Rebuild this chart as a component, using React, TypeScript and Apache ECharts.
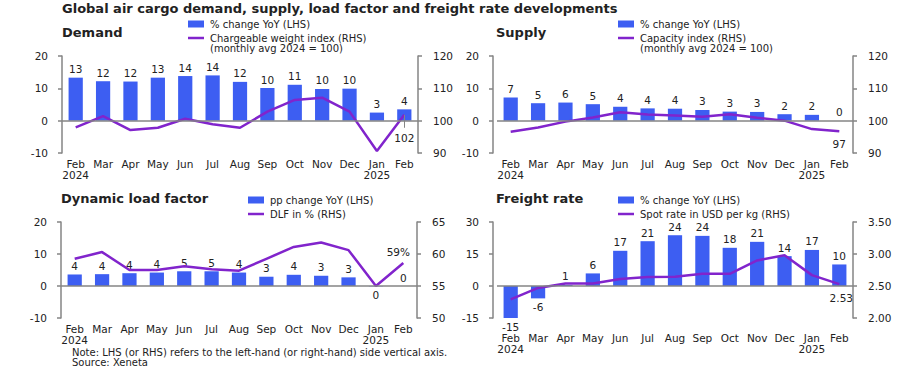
import React, { useEffect, useRef } from 'react';
import * as echarts from 'echarts';

const categories = ['Feb', 'Mar', 'Apr', 'May', 'Jun', 'Jul', 'Aug', 'Sep', 'Oct', 'Nov', 'Dec', 'Jan', 'Feb'];
const yearLabels: Record<number, string> = { 0: '2024', 11: '2025' };

const demandYoY = [13.3, 12.2, 12.1, 13.3, 13.8, 14.0, 12.0, 10.1, 11.1, 9.8, 9.9, 2.5, 3.5];
const demandIndex = [97.9, 101.4, 97.1, 97.8, 100.6, 98.9, 97.8, 102.8, 106.4, 107.1, 102.8, 90.6, 101.8];
const supplyYoY = [7.2, 5.4, 5.6, 5.1, 4.3, 3.8, 3.7, 3.3, 2.8, 2.7, 2.0, 1.8, 0];
const supplyIndex = [96.6, 97.9, 99.7, 101.0, 102.6, 101.9, 101.6, 101.2, 102.0, 100.9, 100.0, 97.4, 96.7];
const dlfChange = [3.6, 3.7, 4.0, 4.2, 4.6, 4.6, 4.2, 2.9, 3.5, 3.2, 2.7, -0.1, 0];
const dlfPct = [59.25, 60.3, 57.5, 57.5, 58.1, 57.6, 57.4, 59.25, 61.1, 61.8, 60.6, 55.0, 58.6];
const freightYoY = [-15, -5.8, 0.5, 5.9, 16.5, 21, 23.8, 23.5, 17.9, 20.7, 14, 16.9, 10.1];
const freightSpot = [2.29, 2.47, 2.54, 2.54, 2.61, 2.64, 2.645, 2.69, 2.69, 2.9, 2.98, 2.67, 2.53];

const BLUE = '#3d5ef2';
const PURPLE = '#8124cc';
const GREY = '#858585';
const TEXT = '#222';
const FONT = 'DejaVu Sans';

type Panel = {
  title: string;
  grid: { left: number; top: number; width: number; height: number };
  leftAxis: { min: number; max: number; interval: number; offset?: number };
  rightAxis: { min: number; max: number; interval: number; decimals?: number };
  bars: number[];
  line: number[];
  barName: string;
  lineName: string[];
  lastLabel: { text: string; position: string; offset: number[]; guide?: boolean };
  xLabelMargin: number;
};

const panels: Panel[] = [
  {
    title: 'Demand',
    grid: { left: 62, top: 56, width: 356, height: 97 },
    leftAxis: { min: -10, max: 20, interval: 10 },
    rightAxis: { min: 90, max: 120, interval: 10 },
    bars: demandYoY,
    line: demandIndex,
    barName: '% change YoY (LHS)',
    lineName: ['Chargeable weight index (RHS)', '(monthly avg 2024 = 100)'],
    lastLabel: { text: '102', position: 'bottom', offset: [0, 13], guide: true },
    xLabelMargin: 5,
  },
  {
    title: 'Supply',
    grid: { left: 497, top: 56, width: 356, height: 97 },
    leftAxis: { min: -10, max: 20, interval: 10, offset: 4 },
    rightAxis: { min: 90, max: 120, interval: 10 },
    bars: supplyYoY,
    line: supplyIndex,
    barName: '% change YoY (LHS)',
    lineName: ['Capacity index (RHS)', '(monthly avg 2024 = 100)'],
    lastLabel: { text: '97', position: 'bottom', offset: [0, 2] },
    xLabelMargin: 5,
  },
  {
    title: 'Dynamic load factor',
    grid: { left: 61, top: 222, width: 356, height: 96 },
    leftAxis: { min: -10, max: 20, interval: 10 },
    rightAxis: { min: 50, max: 65, interval: 5 },
    bars: dlfChange,
    line: dlfPct,
    barName: 'pp change YoY (LHS)',
    lineName: ['DLF in % (RHS)'],
    lastLabel: { text: '59%', position: 'top', offset: [-5, 0] },
    xLabelMargin: 5,
  },
  {
    title: 'Freight rate',
    grid: { left: 497, top: 222, width: 356, height: 96 },
    leftAxis: { min: -15, max: 30, interval: 15, offset: 4 },
    rightAxis: { min: 2.0, max: 3.5, interval: 0.5, decimals: 2 },
    bars: freightYoY,
    line: freightSpot,
    barName: '% change YoY (LHS)',
    lineName: ['Spot rate in USD per kg (RHS)'],
    lastLabel: { text: '2.53', position: 'bottom', offset: [2, 3] },
    xLabelMargin: 14,
  },
];

function buildOption() {
  const grid: any[] = [];
  const xAxis: any[] = [];
  const yAxis: any[] = [];
  const series: any[] = [];
  const graphic: any[] = [];

  panels.forEach((p, i) => {
    grid.push({ ...p.grid, containLabel: false });
    xAxis.push({
      type: 'category',
      gridIndex: i,
      data: categories,
      axisLine: { show: false },
      axisTick: { show: false },
      axisLabel: {
        interval: 0,
        margin: p.xLabelMargin,
        fontSize: 10.5,
        lineHeight: 11,
        color: TEXT,
        fontFamily: FONT,
        formatter: (v: string, idx: number) => (yearLabels[idx] ? `${v}\n${yearLabels[idx]}` : v),
      },
    });
    const axisCommon = {
      type: 'value',
      gridIndex: i,
      splitLine: { show: false },
      axisLine: { show: true, lineStyle: { color: GREY, width: 1.5 } },
      axisTick: { show: true, length: 4, lineStyle: { color: GREY, width: 1.5 } },
    };
    yAxis.push({
      ...axisCommon,
      position: 'left',
      min: p.leftAxis.min,
      max: p.leftAxis.max,
      interval: p.leftAxis.interval,
      offset: p.leftAxis.offset || 0,
      axisLabel: { margin: 14, fontSize: 10.5, color: TEXT, fontFamily: FONT },
    });
    const dec = p.rightAxis.decimals || 0;
    yAxis.push({
      ...axisCommon,
      position: 'right',
      min: p.rightAxis.min,
      max: p.rightAxis.max,
      interval: p.rightAxis.interval,
      axisLabel: {
        margin: 15,
        fontSize: 10.5,
        color: TEXT,
        fontFamily: FONT,
        formatter: (v: number) => v.toFixed(dec),
      },
    });
    series.push({
      type: 'bar',
      name: p.barName,
      xAxisIndex: i,
      yAxisIndex: i * 2,
      data: p.bars.map((v) => ({
        value: v,
        label: { position: v < 0 ? 'bottom' : 'top' },
      })),
      barWidth: '52%',
      itemStyle: { color: BLUE },
      label: {
        show: true,
        distance: 3,
        fontSize: 10.5,
        color: TEXT,
        fontFamily: FONT,
        formatter: (d: any) => String(Math.round(d.value) === 0 ? 0 : Math.round(d.value)),
      },
      markLine: {
        silent: true,
        symbol: 'none',
        label: { show: false },
        lineStyle: { color: GREY, width: 1.5, type: 'solid' },
        data: [{ yAxis: 0 }],
      },
      z: 2,
    });
    const last = p.line.length - 1;
    series.push({
      type: 'line',
      name: p.lineName.join(' '),
      xAxisIndex: i,
      yAxisIndex: i * 2 + 1,
      data: p.line.map((v, k) =>
        k === last
          ? {
              value: v,
              label: {
                show: true,
                position: p.lastLabel.position,
                offset: p.lastLabel.offset,
                formatter: p.lastLabel.text,
                fontSize: 10.5,
                color: TEXT,
                fontFamily: FONT,
              },
            }
          : v
      ),
      symbol: 'circle',
      symbolSize: 0.1,
      showSymbol: true,
      lineStyle: { color: PURPLE, width: 2.5 },
      itemStyle: { color: PURPLE },
      label: { show: false },
      z: 3,
    });
    if (p.lastLabel.guide) {
      series.push({
        type: 'line',
        xAxisIndex: i,
        yAxisIndex: i * 2 + 1,
        data: p.line.map((v, k) => (k === last ? v : null)),
        symbol: 'none',
        silent: true,
        lineStyle: { width: 0 },
        markLine: {
          silent: true,
          symbol: 'none',
          label: { show: false },
          lineStyle: { color: GREY, width: 1, type: 'solid' },
          data: [
            [
              { coord: [last, p.line[last]] },
              { coord: [last, p.line[last] - 4] },
            ],
          ],
        },
      });
    }

    // Panel title and legend
    const g = p.grid;
    const titleY = g.top - 22;
    graphic.push({
      type: 'text',
      left: g.left - (i % 2 === 1 ? 1 : 0),
      top: titleY - 8,
      style: { text: p.title, font: `bold 13px "${FONT}"`, fill: TEXT },
    });
    const legX = i % 2 === 0 ? (i === 0 ? 188 : 248) : 618;
    const legY = i < 2 ? 24 : 200;
    graphic.push({
      type: 'rect',
      shape: { x: legX, y: legY - 3.5, width: 16, height: 7 },
      style: { fill: BLUE },
    });
    graphic.push({
      type: 'text',
      x: legX + 22,
      y: legY,
      style: { text: p.barName, font: `10px "${FONT}"`, fill: TEXT, verticalAlign: 'middle' },
    });
    graphic.push({
      type: 'line',
      shape: { x1: legX, y1: legY + 14, x2: legX + 16, y2: legY + 14 },
      style: { stroke: PURPLE, lineWidth: 2.5 },
    });
    p.lineName.forEach((t, k) => {
      graphic.push({
        type: 'text',
        x: legX + 22,
        y: legY + 14 + k * 10,
        style: { text: t, font: `10px "${FONT}"`, fill: TEXT, verticalAlign: 'middle' },
      });
    });
  });

  graphic.push({
    type: 'text',
    x: 62,
    y: 8,
    style: {
      text: 'Global air cargo demand, supply, load factor and freight rate developments',
      font: `bold 13px "${FONT}"`,
      fill: TEXT,
      verticalAlign: 'middle',
    },
  });
  graphic.push({
    type: 'text',
    x: 72,
    y: 352,
    style: {
      text: 'Note: LHS (or RHS) refers to the left-hand (or right-hand) side vertical axis.',
      font: `10px "${FONT}"`,
      fill: TEXT,
      verticalAlign: 'middle',
    },
  });
  graphic.push({
    type: 'text',
    x: 72,
    y: 362,
    style: { text: 'Source: Xeneta', font: `10px "${FONT}"`, fill: TEXT, verticalAlign: 'middle' },
  });

  return {
    animation: false,
    backgroundColor: '#ffffff',
    textStyle: { fontFamily: FONT },
    grid,
    xAxis,
    yAxis,
    series,
    graphic,
  };
}

export default function App() {
  const ref = useRef<HTMLDivElement>(null);
  useEffect(() => {
    if (!ref.current) return;
    const chart = echarts.init(ref.current, undefined, { renderer: 'svg' });
    chart.setOption(buildOption() as any);
    return () => chart.dispose();
  }, []);
  return (
    <div
      ref={ref}
      style={{ position: 'fixed', left: 0, top: 0, width: 920, height: 367, background: '#fff' }}
    />
  );
}
